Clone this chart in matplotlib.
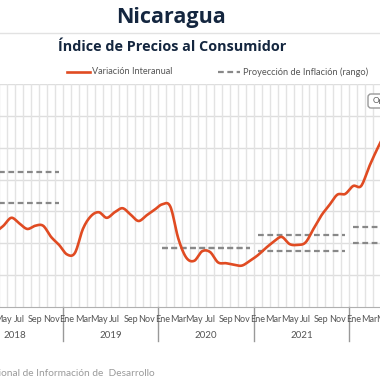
import numpy as np
import matplotlib.pyplot as plt
from matplotlib.lines import Line2D
from matplotlib.patches import FancyBboxPatch
from matplotlib.transforms import blended_transform_factory

plt.rcParams['font.family'] = ['Lato', 'DejaVu Sans']

# monthly year-on-year inflation, Apr 2018 .. May 2022 (index 0 = Jan 2018)
start_idx = 3
inflacion = [4.7, 5.1, 5.6, 5.25, 4.9, 5.1, 5.1, 4.4, 3.9,          # 2018 Apr-Dec
             3.3, 3.4, 4.9, 5.7, 5.95, 5.6, 5.95, 6.2, 5.8, 5.4, 5.75, 6.1,   # 2019
             6.45, 6.3, 4.3, 3.1, 2.9, 3.5, 3.45, 2.8, 2.75, 2.65, 2.6, 2.9,  # 2020
             3.25, 3.7, 4.1, 4.4, 3.95, 3.9, 4.05, 4.9, 5.75, 6.4, 7.05, 7.1, # 2021
             7.6, 7.6, 8.8, 9.9, 10.9]                                      # 2022 Jan-May

# projection range per year (low, high)
proy_anios = [2018, 2020, 2021, 2022]
proy_bajo = [6.5, 3.7, 3.5, 4.0]
proy_alto = [8.5, 3.7, 4.5, 5.0]

meses = ['Ene', 'Feb', 'Mar', 'Abr', 'May', 'Jun', 'Jul', 'Ago', 'Sep', 'Oct', 'Nov', 'Dic']
anios = [2018, 2019, 2020, 2021, 2022]

RED = '#e04b22'
GRAY = '#888888'
NAVY = '#14263f'


def spline(x, y, n=12):
    # catmull-rom smoothing like a highcharts spline
    x = np.asarray(x, float)
    y = np.asarray(y, float)
    px = np.concatenate([[2 * x[0] - x[1]], x, [2 * x[-1] - x[-2]]])
    py = np.concatenate([[2 * y[0] - y[1]], y, [2 * y[-1] - y[-2]]])
    xs, ys = [], []
    t = np.linspace(0, 1, n, endpoint=False)
    for i in range(1, len(px) - 2):
        p0, p1, p2, p3 = py[i - 1], py[i], py[i + 1], py[i + 2]
        ys.append(0.5 * (2 * p1 + (-p0 + p2) * t + (2 * p0 - 5 * p1 + 4 * p2 - p3) * t ** 2
                         + (-p0 + 3 * p1 - 3 * p2 + p3) * t ** 3))
        xs.append(px[i] + (px[i + 1] - px[i]) * t)
    xs.append([x[-1]])
    ys.append([y[-1]])
    return np.concatenate(xs), np.concatenate(ys)


fig = plt.figure(figsize=(3.8, 3.8), dpi=100)
W = H = 380.0
step = 7.95
x0 = 12 - 67 / step
x1 = 12 + (W - 67) / step

ax = fig.add_axes([0, 1 - 307 / H, 1, (307 - 84) / H])
ax.set_xlim(x0, x1)
ax.set_ylim(0, 14)
for s in ['left', 'right', 'top']:
    ax.spines[s].set_visible(False)
ax.spines['bottom'].set_color('#b0b0b0')
ax.set_xticks([])
ax.set_yticks([])

for v in range(2, 15, 2):
    ax.axhline(v, color='#dedede', lw=1, zorder=0)
for i in range(0, 62):
    ax.axvline(i - 0.5, color='#e3e3e3', lw=1, zorder=0)

# projection ranges
for a, lo, hi in zip(proy_anios, proy_bajo, proy_alto):
    i0 = (a - 2018) * 12
    for v in (lo, hi):
        ax.plot([i0, i0 + 11], [v, v], color=GRAY, lw=1.6, dashes=(2.6, 1.6), zorder=2)

xs = np.arange(start_idx, start_idx + len(inflacion))
sx, sy = spline(xs, inflacion)
ax.plot(sx, sy, color=RED, lw=1.9, zorder=3, solid_capstyle='round')

# category axis labels
tr = blended_transform_factory(ax.transData, ax.transAxes)
ax_h = 307 - 84
for i in range(0, 60):
    if i % 2 == 0:
        ax.text(i, -12 / ax_h, meses[i % 12], transform=tr, ha='center', va='center',
                fontsize=6.5, color='#555555', clip_on=False)
for k, a in enumerate(anios):
    ax.text(k * 12 + 5.5, -29 / ax_h, str(a), transform=tr, ha='center', va='center',
            fontsize=7, color='#555555', clip_on=False)
    ax.plot([k * 12 - 0.5] * 2, [0, -34 / ax_h], transform=tr, color='#999999', lw=1, clip_on=False)

# titles
fig.text(171 / W, 1 - 18 / H, 'Nicaragua', ha='center', va='center',
         fontsize=15.5, fontweight='bold', color=NAVY, family=['Open Sans', 'DejaVu Sans'])
fig.add_artist(Line2D([0, 1], [1 - 33 / H] * 2, color='#e2e2e2', lw=1))
fig.text(172 / W, 1 - 47 / H, 'Índice de Precios al Consumidor', ha='center', va='center',
         fontsize=10.4, fontweight='bold', color=NAVY, family=['Open Sans', 'DejaVu Sans'])

# legend
ly = 1 - 72 / H
fig.add_artist(Line2D([67 / W, 90 / W], [ly, ly], color=RED, lw=1.9))
fig.text(92 / W, ly, 'Variación Interanual', ha='left', va='center', fontsize=6.6, color='#555555')
fig.add_artist(Line2D([218 / W, 240 / W], [ly, ly], color=GRAY, lw=1.6, dashes=(2.6, 1.6)))
fig.text(243 / W, ly, 'Proyección de Inflación (rango)', ha='left', va='center', fontsize=6.7, color='#555555')

# button at top right
fig.add_artist(FancyBboxPatch((368 / W, 1 - 108 / H), 30 / W, 14 / H,
                              boxstyle='round,pad=0,rounding_size=0.008',
                              transform=fig.transFigure, fc='white', ec='#999999', lw=1))
fig.text(373 / W, 1 - 101 / H, 'Opciones', ha='left', va='center', fontsize=6, color='#555555')

# source
fig.text(155 / W, 1 - 373 / H, 'Fuente: Sistema Nacional de Información de  Desarrollo',
         ha='right', va='center', fontsize=7.3, color='#9a9a9a')

fig.savefig('out.png', dpi=100)
